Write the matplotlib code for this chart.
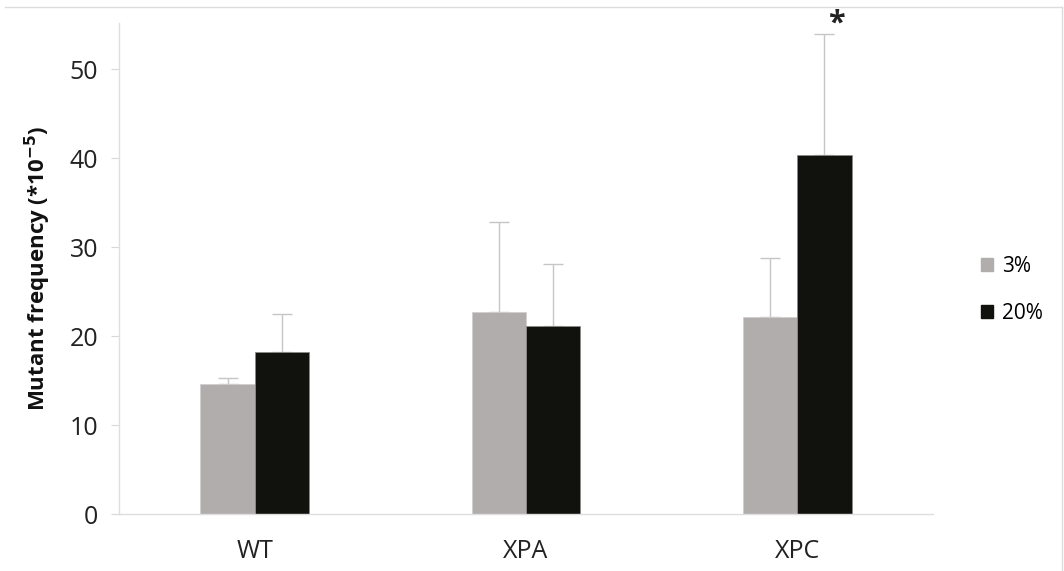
import numpy as np
import matplotlib.pyplot as plt
from matplotlib.lines import Line2D

plt.rcParams['font.family'] = ['Open Sans', 'DejaVu Sans']

groups = ['WT', 'XPA', 'XPC']
low_o2 = [14.6, 22.7, 22.2]      # 3%
high_o2 = [18.2, 21.1, 40.4]     # 20%
low_err = [0.7, 10.1, 6.6]
high_err = [4.3, 7.0, 13.6]
series_labels = ['3%', '20%']

grey = '#b0adac'
black = '#11120d'
err_col = '#c6c6c6'

fig = plt.figure(figsize=(10.64, 5.71), dpi=100)
ax = fig.add_axes([119 / 1064, 57 / 571, (933 - 119) / 1064, (514 - 23) / 571])

x = np.arange(len(groups))
w = 0.2
ax.bar(x - w / 2, low_o2, w, color=grey, edgecolor='#d0cfce', linewidth=0.6, zorder=2)
ax.bar(x + w / 2, high_o2, w, color=black, edgecolor='#8a8a88', linewidth=0.6, zorder=2)
# upper error bars only
ax.errorbar(x - w / 2, low_o2, yerr=[np.zeros(3), low_err], fmt='none',
            ecolor=err_col, elinewidth=1, capsize=7, capthick=1, zorder=1)
ax.errorbar(x + w / 2, high_o2, yerr=[np.zeros(3), high_err], fmt='none',
            ecolor=err_col, elinewidth=1, capsize=7, capthick=1, zorder=1)

# significance marker above XPC 20%
ax.text(x[2] + w / 2 + 0.045, 54.2, '*', ha='center', va='baseline',
        fontsize=22, fontweight='bold', color='#222222', clip_on=False)

ax.set_xlim(-0.5, 2.5)
ax.set_ylim(0, 55.2)
ax.set_yticks([0, 10, 20, 30, 40, 50])
ax.set_xticks(x, groups)
ax.tick_params(axis='y', length=6, width=0.8, color='#d8d8d8', labelsize=18, pad=9, labelcolor='#222222')
ax.tick_params(axis='x', length=0, labelsize=18, pad=18, labelcolor='#222222')
for side in ['top', 'right']:
    ax.spines[side].set_visible(False)
for side in ['left', 'bottom']:
    ax.spines[side].set_color('#dedede')
    ax.spines[side].set_linewidth(1)

ax.set_ylabel('Mutant frequency (*10$^{\\mathbf{-5}}$)', fontsize=16, fontweight='bold',
              labelpad=12, color='#111111')

handles = [plt.Rectangle((0, 0), 1, 1, color=grey), plt.Rectangle((0, 0), 1, 1, color=black)]
fig.legend(handles, series_labels, loc='center left', bbox_to_anchor=(962 / 1064, 1 - 290 / 571),
           frameon=False, fontsize=15, handlelength=0.6, handleheight=0.6,
           handletextpad=0.4, labelspacing=1.25)

# thin frame lines at top and right
fig.add_artist(Line2D([5 / 1064, 1062 / 1064], [1 - 7 / 571, 1 - 7 / 571], color='#dcdcdc', lw=1))
fig.add_artist(Line2D([1062 / 1064, 1062 / 1064], [1 - 7 / 571, 0], color='#dcdcdc', lw=1))

fig.savefig('out.png', dpi=100, facecolor='white')
